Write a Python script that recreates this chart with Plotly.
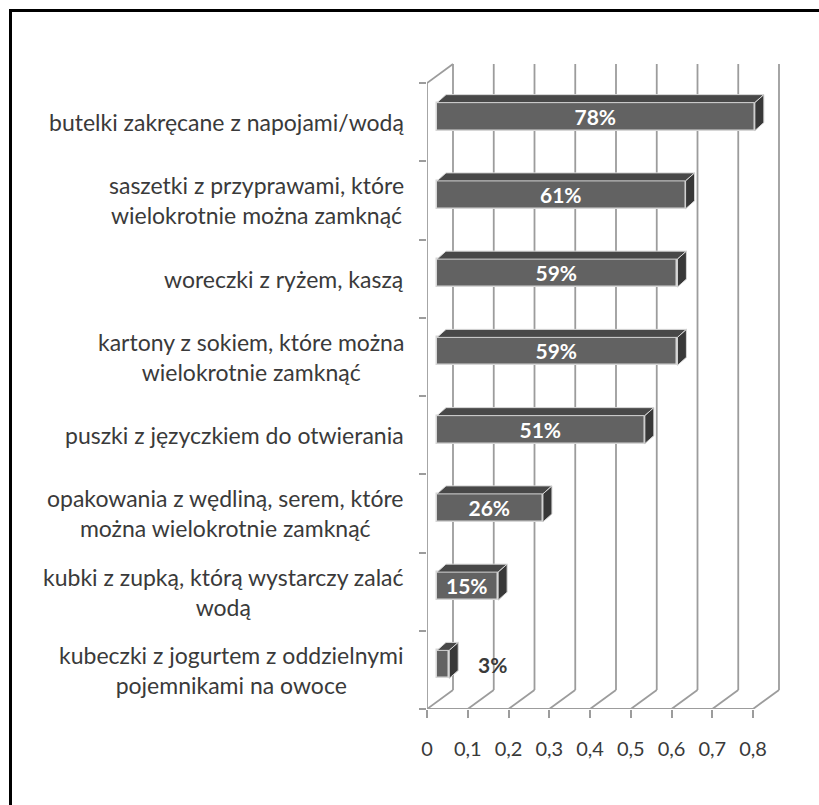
import plotly.graph_objects as go

# ---------------- data ----------------
categories = [
    "butelki zakręcane z napojami/wodą",
    "saszetki z przyprawami, które<br>wielokrotnie można zamknąć",
    "woreczki z ryżem, kaszą",
    "kartony z sokiem, które można<br>wielokrotnie zamknąć",
    "puszki z języczkiem do otwierania",
    "opakowania z wędliną, serem, które<br>można wielokrotnie zamknąć",
    "kubki z zupką, którą wystarczy zalać<br>wodą",
    "kubeczki z jogurtem z oddzielnymi<br>pojemnikami na owoce",
]
values = [0.78, 0.61, 0.59, 0.59, 0.51, 0.26, 0.15, 0.03]
value_labels = ["78%", "61%", "59%", "59%", "51%", "26%", "15%", "3%"]
tick_values = [0, 0.1, 0.2, 0.3, 0.4, 0.5, 0.6, 0.7, 0.8]
tick_labels = ["0", "0,1", "0,2", "0,3", "0,4", "0,5", "0,6", "0,7", "0,8"]

# ---------------- geometry (pixel-based styling) ----------------
W_PX, H_PX = 819, 805
L, B, T, R = 427, 96, 55, 29
plot_w = W_PX - L - R
plot_h = H_PX - T - B
S = 407.5            # px per x unit
C = 78.25            # px per category
xmax = plot_w / S
ymax = plot_h / C
n = len(categories)

Dx, Dy = 26 / S, 19 / C           # wall depth
bx, by = 10 / S, 5.5 / C          # bar front-face offset
ddx, ddy = 9 / S, 8 / C           # bar depth
bh = 28 / C                       # bar height

FONT = "Lato"
TXT = "#3a3a3a"
GRID = "#9c9c9c"
FRONT = "#626262"
TOP = "#484848"
SIDE = "#383838"
EDGE = "#d6d6d6"

fig = go.Figure()
shapes = []

# back-wall gridlines (beneath the bars)
for tv in tick_values:
    shapes.append(dict(type="line", xref="x", yref="y", x0=tv + Dx, x1=tv + Dx,
                       y0=Dy, y1=n + Dy, line=dict(color=GRID, width=1.8), layer="below"))

# floor diagonals, front axis line, left wall edges
gx, gy = [], []
for tv in tick_values:
    gx += [tv, tv + Dx, None]
    gy += [0, Dy, None]
gx += [tick_values[0], tick_values[-1], None, 0, 0, None, 0, Dx, None]
gy += [0, 0, None, 0, n, None, n, n + Dy, None]
fig.add_trace(go.Scatter(x=gx, y=gy, mode="lines", line=dict(color=GRID, width=1.8),
                         hoverinfo="skip", showlegend=False, cliponaxis=False))

# ---------------- bars ----------------
ycent = [n - 1 - i + 0.5 + by for i in range(n)]
fits = [v * S > 45 for v in values]
fig.add_trace(go.Bar(
    x=values, y=ycent, base=[bx] * n, orientation="h", width=bh,
    marker=dict(color=FRONT, line=dict(color=EDGE, width=1.5)),
    text=[lab if f else "" for lab, f in zip(value_labels, fits)],
    textposition="inside", insidetextanchor="middle", constraintext="none",
    textfont=dict(family=FONT, size=21, color="white", weight="bold"),
    hoverinfo="skip", showlegend=False,
))

# top and side faces of bars (3D effect)
for v, yc in zip(values, ycent):
    x0, x1 = bx, bx + v
    yt, yb = yc + bh / 2, yc - bh / 2
    fig.add_trace(go.Scatter(
        x=[x0, x1, x1 + ddx, x0 + ddx, x0], y=[yt, yt, yt + ddy, yt + ddy, yt],
        mode="lines", fill="toself", fillcolor=TOP, line=dict(color=EDGE, width=1),
        hoverinfo="skip", showlegend=False, cliponaxis=False))
    fig.add_trace(go.Scatter(
        x=[x1, x1 + ddx, x1 + ddx, x1, x1], y=[yt, yt + ddy, yb + ddy, yb, yt],
        mode="lines", fill="toself", fillcolor=SIDE, line=dict(color=EDGE, width=1),
        hoverinfo="skip", showlegend=False, cliponaxis=False))

annotations = []
for v, yc, lab, f in zip(values, ycent, value_labels, fits):
    if not f:
        annotations.append(dict(x=bx + v, y=yc, xref="x", yref="y", text=f"<b>{lab}</b>",
                                showarrow=False, xanchor="left", xshift=27,
                                font=dict(family=FONT, size=21, color=TXT)))

# category labels
for i, cat in enumerate(categories):
    annotations.append(dict(x=0, y=n - 1 - i + 0.5, xref="x", yref="y", text=cat,
                            showarrow=False, xanchor="right", yanchor="middle",
                            xshift=-21, align="center",
                            font=dict(family=FONT, size=23, color=TXT)))

# outer frame
def px2paper_x(px):
    return (px - L) / plot_w

def px2paper_y(py):
    return (H_PX - B - py) / plot_h

shapes.append(dict(type="rect", xref="paper", yref="paper",
                   x0=px2paper_x(10.5), x1=px2paper_x(840), y0=px2paper_y(830), y1=px2paper_y(10.5),
                   line=dict(color="black", width=3), fillcolor="rgba(0,0,0,0)", layer="above"))

fig.update_layout(
    width=W_PX, height=H_PX,
    margin=dict(l=L, r=R, t=T, b=B, pad=0),
    paper_bgcolor="white", plot_bgcolor="white",
    separators=", ",
    bargap=0,
    xaxis=dict(range=[0, xmax], tickvals=tick_values, ticktext=tick_labels,
               ticks="outside", ticklen=8, tickwidth=1.5, tickcolor=GRID,
               showgrid=False, zeroline=False, showline=False,
               tickfont=dict(family=FONT, size=20, color=TXT), ticklabelstandoff=14,
               fixedrange=True),
    yaxis=dict(range=[0, ymax], tickvals=list(range(n + 1)), ticks="outside",
               ticklen=7, tickwidth=1.5, tickcolor=GRID, showticklabels=False,
               showgrid=False, zeroline=False, showline=False, fixedrange=True),
    annotations=annotations,
    shapes=shapes,
    showlegend=False,
)

fig.write_html("out.html")
